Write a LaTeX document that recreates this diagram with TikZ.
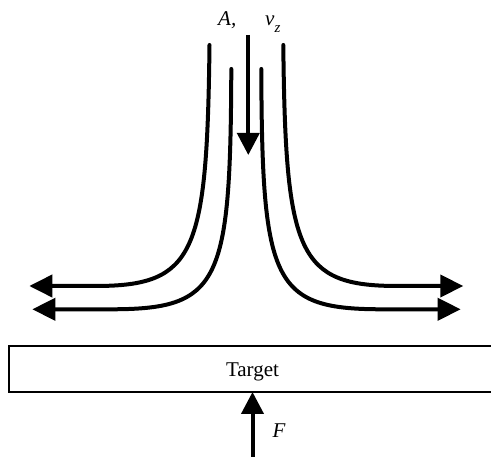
\documentclass[tikz,border=0pt]{standalone}
\usepackage{fontspec}
\setmainfont{Liberation Serif}
\usetikzlibrary{arrows.meta}
\tikzset{
  flow/.style={line width=4pt, line cap=round, -{Triangle[length=23pt,width=22pt]}},
  force/.style={line width=4pt, -{Triangle[length=22pt,width=22pt]}},
  lbl/.style={inner sep=0pt, font=\fontsize{21}{25}\selectfont},
  ilbl/.style={lbl, font=\fontsize{21}{25}\selectfont\itshape},
  box/.style={line width=1.5pt}
}
\begin{document}
\begin{tikzpicture}[x=1pt,y=-1pt]
\useasboundingbox (0,0) rectangle (491,457);
% coordinates
\coordinate (oL) at (209.5,45);
\coordinate (iL) at (231.3,69);
\coordinate (iR) at (261.3,69);
\coordinate (oR) at (283.3,45);
\coordinate (tLt) at (29.3,286);
\coordinate (tLb) at (32.3,309.3);
\coordinate (tRt) at (463.3,286);
\coordinate (tRb) at (460.7,309.3);
\coordinate (jetTop) at (248.3,35);
\coordinate (jetTip) at (248.3,155);
\coordinate (fBot) at (252.5,460);
% target
\draw[box] (520,392) -- (9,392) -- (9,346) -- (520,346);
\node[lbl, anchor=base] (target) at (252.5,376.7) {Target};
\coordinate (fTip) at (252.5,392);
% flow lines
\draw[flow] (oL) .. controls (207,255) and (195,286) .. (95,286) -- (tLt);
\draw[flow] (iL) .. controls (230.5,285) and (220,309.3) .. (110,309.3) -- (tLb);
\draw[flow] (oR) .. controls (285.5,255) and (298,286) .. (398,286) -- (tRt);
\draw[flow] (iR) .. controls (262,285) and (273,309.3) .. (383,309.3) -- (tRb);
% jet arrow
\draw[force] (jetTop) -- (jetTip);
% force arrow
\draw[force] (fBot) -- (fTip);
% labels
\node[ilbl, anchor=base west] (lblA) at (218,26) {A,};
\node[ilbl, anchor=base west] (lblv) at (265,26) {v\raisebox{-0.3em}{\fontsize{15}{15}\selectfont z}};
\node[ilbl, anchor=base west] (lblF) at (272.5,438) {F};
\end{tikzpicture}
\end{document}
